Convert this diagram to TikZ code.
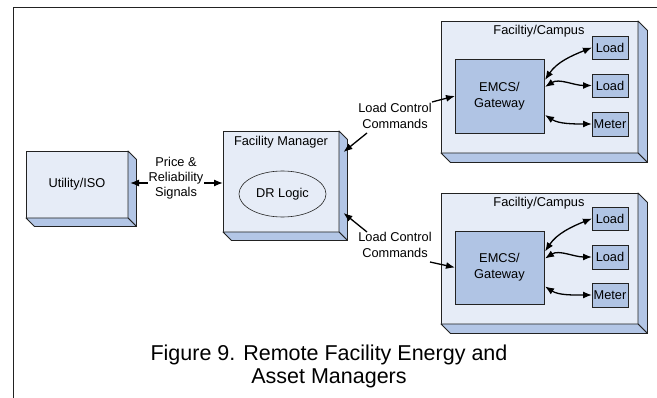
\documentclass[tikz,border=0pt]{standalone}
\usepackage{fontspec}
\setmainfont{Liberation Sans}
\usetikzlibrary{shapes.geometric,arrows.meta}
\definecolor{frontc}{HTML}{E6ECF7}
\definecolor{sidec}{HTML}{B3C6E6}
\definecolor{innerc}{HTML}{B0C4E4}
\definecolor{edgec}{HTML}{222222}
\newcommand\lblfont{\fontsize{12.8}{16}\selectfont}
\newcommand\solidbox[2]{%
  \draw[face] (#1.north east) -- ++(#2,#2) -- ([shift={(#2,#2)}]#1.south east) -- (#1.south east) -- cycle;
  \draw[face] (#1.south west) -- ++(#2,#2) -- ([shift={(#2,#2)}]#1.south east) -- (#1.south east) -- cycle;
}
\begin{document}
\begin{tikzpicture}[x=1pt,y=-1pt,
  front/.style={draw=edgec,fill=frontc,line width=0.9pt,outer sep=0pt,inner sep=0pt,font=\lblfont},
  face/.style={draw=edgec,fill=sidec,line width=0.9pt,line join=round},
  inbox/.style={draw=edgec,fill=innerc,line width=0.9pt,outer sep=0pt,inner sep=0pt,align=center,font=\lblfont},
  lbl/.style={font=\lblfont,align=center,inner sep=0pt},
  conn/.style={line width=1.3pt,-{Latex[length=9pt,width=7pt]}},
  dconn/.style={line width=1.3pt,{Latex[length=9pt,width=7pt]}-{Latex[length=9pt,width=7pt]}},
]
\useasboundingbox (0,0) rectangle (657,398);
% frame
\draw[edgec,line width=1pt] (13,398) -- (13,8) -- (657,8);

% Utility/ISO
\node[front,minimum width=102pt,minimum height=67pt] (util) at (77,184.5) {Utility/ISO};
\solidbox{util}{8.5}

% Facility Manager
\node[front,minimum width=116pt,minimum height=101pt] (fm) at (281,181.5) {};
\solidbox{fm}{8.5}
\node[lbl] (fmtitle) at (281,142) {Facility Manager};
\node[ellipse,draw=edgec,line width=0.6pt,minimum width=87pt,minimum height=46pt,inner sep=0pt,font=\lblfont] (dr) at (282.5,194) {DR Logic};

% Campus A
\node[front,minimum width=197pt,minimum height=132pt] (campA) at (539.5,87) {};
\solidbox{campA}{9.5}
\node[lbl] (titleA) at (539,31) {Faciltiy/Campus};
\node[inbox,minimum width=89pt,minimum height=74pt] (emcsA) at (499.5,96) {EMCS/\\Gateway};
\node[inbox,minimum width=36pt,minimum height=23pt] (loadA1) at (610,47.5) {Load};
\node[inbox,minimum width=36pt,minimum height=23pt] (loadA2) at (610,85.5) {Load};
\node[inbox,minimum width=36pt,minimum height=24pt] (meterA) at (610,124) {Meter};

% Campus B
\node[front,minimum width=197pt,minimum height=131pt] (campB) at (539.5,258.5) {};
\solidbox{campB}{9.5}
\node[lbl] (titleB) at (539,203) {Faciltiy/Campus};
\node[inbox,minimum width=89pt,minimum height=73pt] (emcsB) at (499.5,267.5) {EMCS/\\Gateway};
\node[inbox,minimum width=36pt,minimum height=23pt] (loadB1) at (610,218.5) {Load};
\node[inbox,minimum width=36pt,minimum height=24pt] (loadB2) at (610,257) {Load};
\node[inbox,minimum width=36pt,minimum height=24pt] (meterB) at (610,295) {Meter};

% inner connectors A
\draw[dconn] ([shift={(1,-16)}]emcsA.east) .. controls +(12,-18) and +(-20,8) .. (loadA1.west);
\draw[dconn] ([shift={(1,-9)}]emcsA.east) .. controls +(14,-9) and +(-18,0) .. (loadA2.west);
\draw[dconn] ([shift={(1,19)}]emcsA.east) .. controls +(14,9) and +(-18,0) .. (meterA.west);
% inner connectors B
\draw[dconn] ([shift={(1,-16)}]emcsB.east) .. controls +(12,-18) and +(-20,8) .. (loadB1.west);
\draw[dconn] ([shift={(1,-9)}]emcsB.east) .. controls +(14,-9) and +(-18,0) .. (loadB2.west);
\draw[dconn] ([shift={(1,19)}]emcsB.east) .. controls +(14,9) and +(-18,0) .. (meterB.west);

% price signals
\coordinate (pr) at (0,183);
\draw[dconn] ([xshift=2pt]util.east |- pr) -- (fm.west |- pr);
\node[lbl,fill=white,inner sep=0.5pt,font=\fontsize{12.8}{15}\selectfont] (price) at (176,178) {Price \&\\Reliability\\Signals};

% load control commands
\node[lbl] (lccA) at (395,116) {Load Control\\Commands};
\node[lbl] (lccB) at (395,245) {Load Control\\Commands};
\coordinate (fmA) at (343.5,152);
\coordinate (fmB) at (343.5,213);
\coordinate (lccAs) at (367,133);
\coordinate (lccAe) at (432,102);
\coordinate (lccBn) at (367,232);
\coordinate (lccBe) at (430,262);
\draw[conn] (lccAs) -- (fmA);
\draw[conn] (lccAe) -- (emcsA.west);
\draw[conn] (lccBn) -- (fmB);
\draw[conn] (lccBe) -- (emcsB.west);

% caption
\node[align=center,inner sep=0pt,font=\fontsize{21.5}{23}\selectfont] (cap) at (329,366) {Figure 9. Remote Facility Energy and\\Asset Managers};
\end{tikzpicture}
\end{document}
